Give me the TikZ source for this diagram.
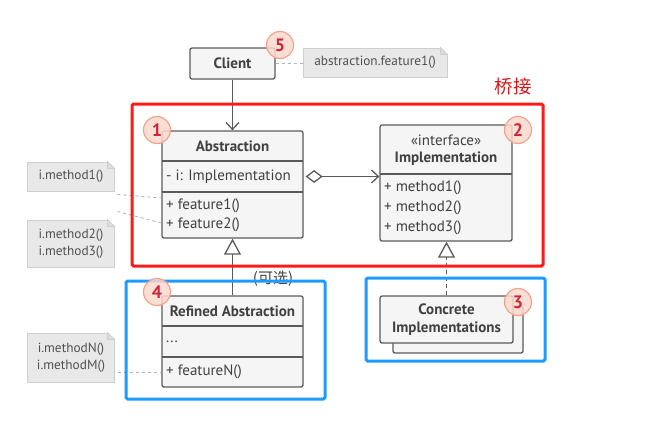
\documentclass[tikz,border=0pt]{standalone}
\usepackage{fontspec}
\setmainfont{PT Sans}
\newfontfamily\cjkfont{Noto Sans CJK SC}
\usetikzlibrary{arrows.meta}

\definecolor{boxedge}{HTML}{5A5A5A}
\definecolor{boxfill}{HTML}{F5F5F5}
\definecolor{textgray}{HTML}{404040}
\definecolor{notefill}{HTML}{E8E8E8}
\definecolor{noteedge}{HTML}{CFCFCF}
\definecolor{notetext}{HTML}{505050}
\definecolor{linkgray}{HTML}{B4B4B4}
\definecolor{badgefill}{HTML}{FDD8CC}
\definecolor{badgeedge}{HTML}{F5A28C}
\definecolor{badgered}{HTML}{C8283A}
\definecolor{frame red}{HTML}{FF1A1A}
\definecolor{frame blue}{HTML}{1E9BFF}

\tikzset{
  classbox/.style={draw=boxedge, fill=boxfill, line width=1.3bp, rounded corners=2bp, inner sep=0pt},
  classline/.style={draw=boxedge, line width=1.3bp},
  headtext/.style={font=\fontsize{15bp}{18bp}\selectfont\bfseries, text=textgray, inner sep=0pt},
  membertext/.style={font=\fontsize{15bp}{18bp}\selectfont, text=textgray, anchor=west, inner sep=0pt},
  notebox/.style={draw=noteedge, fill=notefill, line width=1bp, inner sep=0pt, align=center,
    font=\fontsize{13.3bp}{17bp}\selectfont, text=notetext},
  notefold/.style={draw=noteedge, fill=noteedge!70!white, line width=0.8bp},
  notelink/.style={draw=linkgray, dash pattern=on 3bp off 3bp, line width=0.9bp},
  badge/.style={circle, draw=badgeedge, fill=badgefill, fill opacity=0.85, text opacity=1, line width=1.2bp,
    minimum size=27bp, inner sep=0pt, text=badgered, font=\fontsize{18bp}{18bp}\selectfont\bfseries},
  assoc/.style={draw=boxedge, line width=1.3bp, -{Straight Barb[length=7bp,width=13bp,line width=1.3bp]}},
  aggr/.style={draw=boxedge, line width=1.3bp, {Diamond[open,length=17bp,width=13bp,line width=1.3bp]}-{Straight Barb[length=7bp,width=13bp,line width=1.3bp]}},
  inherit/.style={draw=boxedge, line width=1.3bp, -{Triangle[open,length=16bp,width=17bp,line width=1.3bp]}},
  realize/.style={inherit, dash pattern=on 4bp off 3bp},
  groupframe/.style={line width=3bp, rounded corners=1.5bp}
}

\begin{document}
\begin{tikzpicture}[x=1bp,y=-1bp]
\useasboundingbox (0,0) rectangle (648,420);

% client
\node[classbox, minimum width=85bp, minimum height=31bp] (client) at (232.5,63.5) {};
\node[headtext] (clientname) at (232.5,63.5) {Client};
\node[notebox, minimum width=144bp, minimum height=29bp] (nclient) at (375,62.5) {abstraction.feature1()};

% abstraction
\node[classbox, minimum width=141bp, minimum height=107bp] (abs) at (232.5,184.5) {};
\draw[classline] (162,161) -- (303,161);
\draw[classline] (162,192) -- (303,192);
\node[headtext] (absname) at (232.5,146) {Abstraction};
\node[membertext] (absattr) at (166,176.5) {- i: Implementation};
\node[membertext] (absf1) at (166,206) {+ feature1()};
\node[membertext] (absf2) at (166,224.5) {+ feature2()};

% implementation
\node[classbox, minimum width=132bp, minimum height=116bp] (impl) at (446,183) {};
\draw[classline] (380,174) -- (512,174);
\node[headtext, font=\fontsize{15bp}{18bp}\selectfont] (implstereo) at (446,140) {«interface»};
\node[headtext] (implname) at (446,159) {Implementation};
\node[membertext] (implm1) at (384,188) {+ method1()};
\node[membertext] (implm2) at (384,208) {+ method2()};
\node[membertext] (implm3) at (384,228) {+ method3()};

% refined abstraction
\node[classbox, minimum width=141bp, minimum height=91bp] (refined) at (232.5,341.5) {};
\draw[classline] (162,326) -- (303,326);
\draw[classline] (162,357) -- (303,357);
\node[headtext] (refname) at (232.5,311) {Refined Abstraction};
\node[membertext] (refdots) at (166,342) {...};
\node[membertext] (reffn) at (166,372) {+ featureN()};

% concrete implementations
\node[classbox, minimum width=130bp, minimum height=47bp] (conc2) at (458,329.5) {};
\node[classbox, minimum width=133bp, minimum height=47bp] (conc) at (446.5,319.5) {};
\node[headtext, align=center, font=\fontsize{15bp}{18bp}\selectfont\bfseries] (concname) at (446.5,320) {Concrete\\Implementations};

% notes
\node[notebox, minimum width=86bp, minimum height=29bp] (nf1) at (71,176.5) {i.method1()};
\node[notebox, minimum width=86bp, minimum height=47bp] (nf2) at (71,243.5) {i.method2()\\i.method3()};
\node[notebox, minimum width=86bp, minimum height=49bp] (nfn) at (71,357.5) {i.methodN()\\i.methodM()};
\foreach \n in {nclient,nf1,nf2,nfn} {
  \fill[white] ([xshift=-7bp]\n.north east) -- ([xshift=1bp,yshift=1bp]\n.north east) -- ([yshift=-7bp]\n.north east) -- cycle;
  \draw[notefold] ([xshift=-7bp]\n.north east) -- ([xshift=-7bp,yshift=-7bp]\n.north east) -- ([yshift=-7bp]\n.north east) -- cycle;
}

% connectors
\draw[assoc] (client) -- (abs);
\draw[aggr] ([xshift=2bp]abs.east |- absattr) -- (impl.west |- absattr);
\draw[inherit] (refined) -- (abs);
\draw[realize] (conc.north) -- (conc.north |- impl.south);
\draw[notelink] (client.east) -- (nclient.west |- client.east);
\draw[notelink] ([xshift=3bp,yshift=-3bp]nf1.south east) -- (abs.west |- 0,198);
\draw[notelink] ([xshift=3bp,yshift=8bp]nf2.north east) -- (abs.west |- 0,223);
\draw[notelink] ([xshift=3bp]nfn.east |- reffn) -- (refined.west |- reffn);

\node[text=textgray, font=\cjkfont\fontsize{15bp}{18bp}\selectfont] (optional) at (273,279) {(可选)};

% groups
\draw[groupframe, draw=frame red] (132,104) rectangle (543,266);
\draw[groupframe, draw=frame blue] (126,281) rectangle (325,399);
\draw[groupframe, draw=frame blue] (366,278) rectangle (545,361);
\node[text=frame red!85!black, font=\cjkfont\fontsize{18.5bp}{18.5bp}\selectfont] (bridge) at (513,87) {桥接};

% badges
\node[badge] (b5) at (280,45) {5};
\node[badge] (b1) at (157,130) {1};
\node[badge] (b2) at (518,130) {2};
\node[badge] (b4) at (157,292) {4};
\node[badge] (b3) at (518,302) {3};
\end{tikzpicture}
\end{document}
